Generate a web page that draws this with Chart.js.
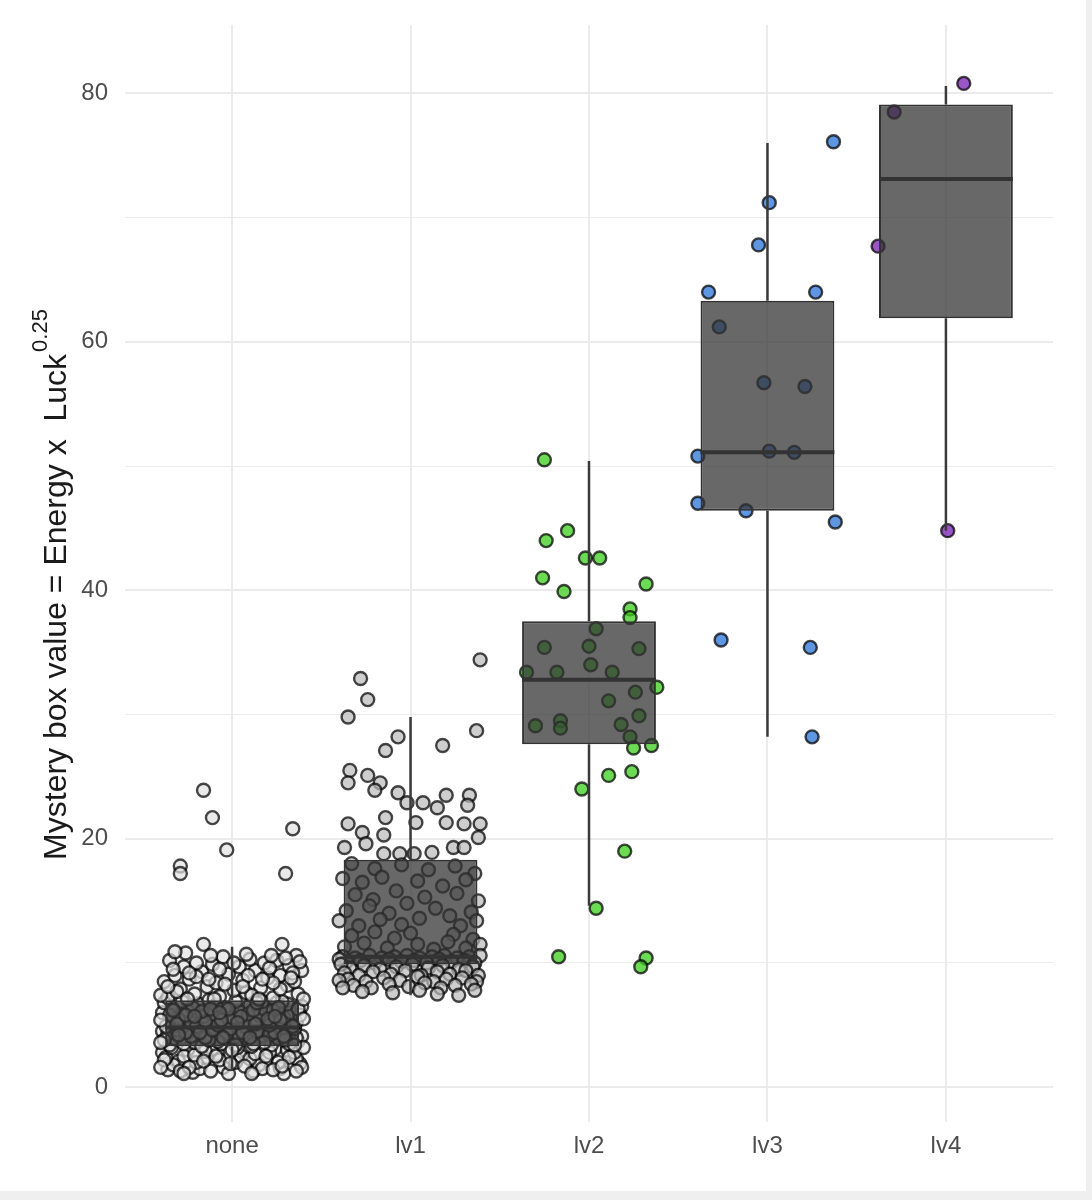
<!DOCTYPE html>
<html>
<head>
<meta charset="utf-8">
<title>Mystery box value</title>
<script src="https://cdn.jsdelivr.net/npm/chart.js@4.4.1/dist/chart.umd.min.js"></script>
<style>
  html, body { margin: 0; padding: 0; background: #efefef; }
  canvas { display: block; background: #ffffff; }
</style>
</head>
<body>
<canvas class="js-chart" width="1086" height="1191"></canvas>
<script>
const categories = ['none', 'lv1', 'lv2', 'lv3', 'lv4'];
const catPos = [1, 2, 3, 4, 5];
const yTicks = [0, 10, 20, 30, 40, 50, 60, 70, 80];

// box stats
const whiskerLow = [1.3, 7.4, 14.6, 28.2, 44.8];
const q1 = [3.3, 9.9, 27.6, 46.4, 61.9];
const median = [4.8, 10.5, 32.8, 51.1, 73.1];
const q3 = [7.0, 18.3, 37.5, 63.3, 79.1];
const whiskerHigh = [11.3, 29.8, 50.4, 76.0, 80.6];

// jittered points: [offset from category, value]
const nonePoints = [
  [-0.36,1.4],[-0.22,1.2],[-0.05,1.6],[0.12,1.3],[0.27,1.5],[0.38,1.9],[-0.30,2.1],[-0.14,2.4],[0.02,2.0],[0.19,2.2],
  [0.33,2.6],[-0.39,2.8],[-0.25,3.0],[-0.08,2.7],[0.08,2.9],[0.24,3.1],[0.36,2.3],[-0.33,1.8],[-0.18,1.5],[0.05,2.5],
  [0.15,1.8],[0.29,1.1],[-0.02,1.1],[-0.27,2.5],[0.21,2.8],[-0.11,3.1],[0.31,3.0],[-0.37,2.4],[0.10,2.3],[-0.20,2.0],
  [0.39,1.6],[-0.07,2.2],[0.17,1.5],[-0.29,1.3],[0.26,2.0],[-0.15,2.9],[0.03,3.2],[-0.34,3.2],[0.35,2.8],[-0.24,1.6],
  [0.13,2.7],[-0.01,1.9],[0.23,1.4],[-0.12,1.3],[0.07,1.7],[-0.38,2.2],[0.32,2.4],[-0.21,2.6],[0.28,1.7],[-0.09,2.5],
  [-0.35,3.4],[-0.21,3.6],[-0.06,3.5],[0.09,3.8],[0.22,3.4],[0.37,3.7],[-0.28,4.0],[-0.13,4.2],[0.01,3.9],[0.16,4.1],
  [0.30,4.3],[-0.39,4.5],[-0.24,4.7],[-0.10,4.4],[0.05,4.6],[0.19,4.8],[0.34,4.5],[-0.32,3.9],[-0.17,3.3],[0.11,3.3],
  [0.26,3.9],[-0.03,4.3],[0.39,4.1],[-0.36,4.3],[0.14,4.5],[-0.19,4.5],[0.28,4.7],[-0.08,3.7],[0.04,4.1],[-0.27,3.5],
  [0.32,3.5],[-0.13,3.8],[0.21,4.2],[-0.38,3.8],[0.08,4.8],[-0.23,4.1],[0.36,4.0],[-0.01,4.7],[0.18,3.6],[-0.31,4.6],
  [0.24,4.4],[-0.15,4.0],[0.12,3.5],[-0.05,4.0],[0.30,3.8],[-0.26,4.4],[0.02,3.4],[-0.11,4.6],[0.35,4.7],[0.06,4.4],
  [-0.37,4.9],[-0.23,5.2],[-0.08,5.0],[0.07,5.3],[0.21,5.0],[0.36,5.2],[-0.30,5.5],[-0.16,5.7],[0.00,5.6],[0.15,5.8],
  [0.29,5.6],[-0.39,6.0],[-0.25,6.2],[-0.11,5.9],[0.04,6.1],[0.18,6.3],[0.33,6.0],[-0.34,6.5],[-0.19,6.7],[-0.04,6.4],
  [0.10,6.6],[0.25,6.8],[0.39,6.5],[-0.28,6.9],[-0.13,7.0],[0.02,6.9],[0.13,5.1],[0.27,5.4],[-0.20,4.9],[0.38,5.8],
  [-0.06,5.4],[0.09,5.9],[0.23,6.2],[-0.35,5.8],[-0.22,6.4],[0.31,6.7],[-0.09,6.6],[0.17,6.9],[-0.31,5.1],[0.05,5.7],
  [0.34,4.9],[-0.15,5.3],[0.20,5.5],[-0.02,6.3],[0.12,6.2],[-0.26,5.8],[0.28,6.9],[-0.38,6.8],[0.37,6.3],[-0.17,6.1],
  [-0.36,7.2],[-0.21,7.5],[-0.07,7.3],[0.08,7.6],[0.23,7.2],[0.37,7.5],[-0.29,7.9],[-0.14,8.1],[0.01,7.8],[0.16,8.0],
  [0.31,8.2],[-0.38,8.5],[-0.24,8.7],[-0.09,8.4],[0.06,8.6],[0.20,8.8],[0.35,8.5],[-0.32,9.0],[-0.17,9.3],[-0.02,9.1],
  [0.13,9.4],[0.27,9.0],[0.39,9.4],[-0.27,9.7],[-0.11,9.9],[0.04,9.7],[0.18,10.0],[0.32,9.8],[-0.35,10.2],[-0.20,10.0],
  [0.10,10.3],[0.25,10.2],[-0.05,10.5],[-0.26,10.8],[0.36,10.6],[-0.16,11.5],[0.28,11.5],[0.38,10.1],[-0.31,7.7],[0.11,7.4],
  [0.27,7.9],[-0.04,8.3],[0.23,8.4],[-0.20,8.9],[0.09,9.0],[-0.33,9.5],[0.34,9.2],[0.01,10.0],[-0.10,7.1],[0.17,8.7],
  [-0.33,6.2],[-0.18,4.4],[0.00,3.0],[0.14,6.8],[0.29,4.1],[-0.40,5.4],[0.40,5.5],[-0.40,3.6],[0.40,3.2],[-0.40,7.4],
  [0.40,7.1],[-0.24,9.2],[0.21,9.6],[-0.07,9.5],[0.06,8.1],[-0.13,8.7],[0.33,8.8],[-0.36,8.1],[0.15,7.1],[-0.25,7.1],
  [0.03,5.2],[-0.12,6.3],[0.26,6.4],[-0.30,4.2],[0.19,2.5],[-0.16,2.1],[0.36,1.3],[-0.40,1.6],[0.11,1.1],[-0.27,1.1],
  [0.08,10.7],[-0.12,10.6],[0.22,10.6],[-0.32,10.9],[0.30,10.4],[-0.07,6.0],[0.10,4.0],[-0.21,5.7],[0.24,5.7],[0.35,3.4],
  [-0.16,23.9],[-0.11,21.7],[0.34,20.8],[-0.03,19.1],[-0.29,17.8],[-0.29,17.2],[0.30,17.2]
];

const lv1Points = [
  [0.39,34.4],[-0.28,32.9],[-0.24,31.2],[-0.35,29.8],[-0.07,28.2],[-0.14,27.1],[0.18,27.5],[0.37,28.7],
  [-0.34,25.5],[-0.24,25.1],[-0.35,24.5],[-0.17,24.5],[-0.20,23.9],[-0.07,23.7],[0.20,23.5],[0.33,23.5],
  [0.07,22.9],[-0.02,22.9],[0.15,22.5],[0.32,22.7],[-0.14,21.7],[0.03,21.3],[0.20,21.3],[0.30,21.2],[0.39,21.2],[-0.35,21.2],
  [-0.27,20.5],[0.38,20.1],[-0.15,20.3],[-0.37,19.3],[-0.25,19.6],[0.24,19.3],[0.30,19.3],[-0.15,18.8],[-0.06,18.8],[0.02,18.8],[0.12,18.9],
  [-0.33,18.0],[-0.20,17.6],[-0.05,17.9],[0.10,17.5],[0.25,17.8],[0.36,17.2],
  [-0.38,16.8],[-0.27,16.5],[-0.16,16.9],[0.04,16.6],[0.18,16.2],[0.31,16.7],
  [-0.31,15.5],[-0.21,15.1],[-0.08,15.8],[0.08,15.3],[0.26,15.6],[0.38,15.0],
  [-0.36,14.2],[-0.23,14.6],[-0.12,14.0],[-0.02,14.8],[0.14,14.4],[0.22,13.8],[0.34,14.1],
  [-0.40,13.4],[-0.29,13.0],[-0.17,13.5],[-0.05,13.1],[0.05,13.6],[0.28,13.0],[0.37,13.4],
  [-0.33,12.2],[-0.20,12.5],[-0.09,12.0],[0.00,12.4],[0.24,12.3],[0.35,11.9],
  [-0.37,11.3],[-0.26,11.6],[-0.13,11.2],[0.04,11.5],[0.13,11.1],[0.21,11.7],[0.31,11.2],[0.39,11.5],
  [-0.38,10.5],[-0.31,10.4],[-0.23,10.6],[-0.16,10.4],[-0.09,10.5],[-0.02,10.6],[0.05,10.4],[0.12,10.5],[0.19,10.6],[0.26,10.4],[0.33,10.5],[0.39,10.6],
  [-0.36,10.1],[-0.28,10.2],[-0.20,10.0],[-0.12,10.3],[-0.05,10.1],[0.02,10.2],[0.09,10.0],[0.16,10.3],[0.23,10.1],[0.30,10.2],[0.36,10.0],[-0.40,10.3],
  [-0.34,9.6],[-0.26,9.8],[-0.17,9.5],[-0.08,9.7],[0.01,9.9],[0.10,9.6],[0.18,9.8],[0.27,9.5],[0.35,9.7],[-0.39,9.9],
  [-0.37,9.2],[-0.29,9.0],[-0.21,9.3],[-0.11,9.1],[-0.03,9.4],[0.06,9.0],[0.15,9.3],[0.22,9.1],[0.31,9.4],[0.38,9.0],
  [-0.35,8.7],[-0.25,8.5],[-0.15,8.8],[-0.06,8.6],[0.04,8.9],[0.13,8.5],[0.20,8.7],[0.29,8.8],[0.37,8.5],[-0.40,8.6],
  [-0.32,8.2],[-0.22,8.0],[-0.12,8.3],[-0.01,8.1],[0.08,8.4],[0.17,8.0],[0.25,8.2],[0.34,8.3],[-0.38,8.0],
  [-0.27,7.7],[-0.10,7.6],[0.05,7.8],[0.15,7.5],[0.27,7.4],[0.36,7.8]
];

const lv2Points = [
  [-0.25,50.5],[-0.12,44.8],[-0.24,44.0],[-0.02,42.6],[0.06,42.6],[-0.26,41.0],[-0.14,39.9],[0.32,40.5],
  [0.23,38.5],[0.23,37.8],[0.04,36.9],[-0.25,35.4],[0.00,35.5],[0.28,35.3],[-0.35,33.4],[-0.18,33.4],
  [0.01,34.0],[0.13,33.4],[0.38,32.2],[0.11,31.1],[0.26,31.8],[0.28,29.9],[-0.30,29.1],[-0.16,29.5],
  [-0.16,28.9],[0.18,29.2],[0.23,28.2],[0.35,27.5],[0.25,27.3],[0.11,25.1],[0.24,25.4],[-0.04,24.0],
  [0.20,19.0],[0.04,14.4],[-0.17,10.5],[0.32,10.4],[0.29,9.7]
];

const lv3Points = [
  [0.37,76.1],[0.01,71.2],[-0.05,67.8],[-0.33,64.0],[0.27,64.0],[-0.27,61.2],[-0.02,56.7],[0.21,56.4],
  [-0.39,50.8],[0.01,51.2],[0.15,51.1],[-0.39,47.0],[-0.12,46.4],[0.38,45.5],[-0.26,36.0],[0.24,35.4],[0.25,28.2]
];

const lv4Points = [
  [0.10,80.8],[-0.29,78.5],[-0.38,67.7],[0.01,44.8]
];

const pointFills = [
  'rgba(225,225,225,0.7)',
  'rgba(185,185,185,0.7)',
  'rgba(60,205,30,0.75)',
  'rgba(40,115,215,0.75)',
  'rgba(120,30,180,0.75)'
];

const fontFamily = '"Liberation Sans", Arial, Helvetica, sans-serif';

const toXY = function (pts, i) {
  return pts.map(p => ({ x: catPos[i] + p[0], y: p[1] }));
};

const yTitle = {
  id: 'yTitle',
  afterDraw(chart) {
    const ctx = chart.ctx;
    const area = chart.chartArea;
    const main = 'Mystery box value = Energy x  Luck';
    const sup = '0.25';
    ctx.save();
    ctx.font = `32px ${fontFamily}`;
    const wMain = ctx.measureText(main).width;
    ctx.font = `22px ${fontFamily}`;
    const wSup = ctx.measureText(sup).width;
    const total = wMain + wSup + 2;
    ctx.translate(66, (area.top + area.bottom) / 2 + 11);
    ctx.rotate(-Math.PI / 2);
    ctx.fillStyle = '#1a1a1a';
    ctx.textBaseline = 'alphabetic';
    ctx.textAlign = 'left';
    ctx.font = `32px ${fontFamily}`;
    ctx.fillText(main, -total / 2, 0);
    ctx.font = `22px ${fontFamily}`;
    ctx.fillText(sup, -total / 2 + wMain + 2, -19);
    ctx.restore();
  }
};

const initChart = function () {
  const allPoints = [nonePoints, lv1Points, lv2Points, lv3Points, lv4Points];

  const pointSets = allPoints.map((pts, i) => ({
    type: 'scatter',
    label: categories[i],
    data: toXY(pts, i),
    pointRadius: 6.5,
    pointBorderWidth: 2.4,
    pointBackgroundColor: pointFills[i],
    pointBorderColor: 'rgba(0,0,0,0.72)',
    order: 3
  }));

  const whiskers = [];
  const medians = [];
  catPos.forEach((x, i) => {
    whiskers.push({ x: x, y: whiskerLow[i] }, { x: x, y: q1[i] }, { x: x, y: null });
    whiskers.push({ x: x, y: q3[i] }, { x: x, y: whiskerHigh[i] }, { x: x, y: null });
    medians.push({ x: x - 0.375, y: median[i] }, { x: x + 0.375, y: median[i] }, { x: x, y: null });
  });

  const data = {
    datasets: [
      ...pointSets,
      {
        type: 'bar',
        label: 'box',
        data: catPos.map((x, i) => ({ x: x, y: [q1[i], q3[i]] })),
        backgroundColor: 'rgba(51,51,51,0.74)',
        borderColor: '#333333',
        borderWidth: 2,
        borderSkipped: false,
        grouped: false,
        categoryPercentage: 1,
        barPercentage: 0.75,
        order: 2
      },
      {
        type: 'line',
        label: 'whisker',
        data: whiskers,
        borderColor: '#3a3a3a',
        borderWidth: 2.5,
        pointRadius: 0,
        spanGaps: false,
        fill: false,
        order: 1
      },
      {
        type: 'line',
        label: 'median',
        data: medians,
        borderColor: '#333333',
        borderWidth: 4,
        pointRadius: 0,
        spanGaps: false,
        fill: false,
        order: 0
      }
    ]
  };

  const config = {
    type: 'scatter',
    data: data,
    options: {
      responsive: false,
      animation: false,
      devicePixelRatio: 1,
      layout: { padding: { top: 25, right: 33, bottom: 0, left: 0 } },
      scales: {
        x: {
          type: 'linear',
          min: 0.4,
          max: 5.6,
          offset: false,
          afterBuildTicks: s => { s.ticks = catPos.map(v => ({ value: v })); },
          afterFit: s => { s.height = 69; s.paddingLeft = 0; s.paddingRight = 0; },
          border: { display: false },
          grid: { color: '#ebebeb', lineWidth: 2, drawTicks: false, offset: false },
          ticks: {
            padding: 10,
            color: '#4d4d4d',
            font: { family: fontFamily, size: 24 },
            callback: v => categories[catPos.indexOf(v)]
          }
        },
        y: {
          type: 'linear',
          min: -2.8,
          max: 85.5,
          afterBuildTicks: s => { s.ticks = yTicks.map(v => ({ value: v })); },
          afterFit: s => { s.width = 125; s.paddingTop = 0; s.paddingBottom = 0; },
          border: { display: false },
          grid: {
            color: '#ebebeb',
            lineWidth: c => (c.tick && c.tick.value % 20 === 0 ? 2 : 1),
            drawTicks: false
          },
          ticks: {
            padding: 17,
            color: '#4d4d4d',
            font: { family: fontFamily, size: 24 },
            callback: v => (v % 20 === 0 ? v : '')
          }
        }
      },
      plugins: {
        legend: { display: false },
        tooltip: { enabled: false }
      }
    },
    plugins: [yTitle]
  };

  const chart = new Chart(document.querySelector('.js-chart'), config);
};

document.addEventListener('DOMContentLoaded', function () {
  initChart();
});
</script>
</body>
</html>
